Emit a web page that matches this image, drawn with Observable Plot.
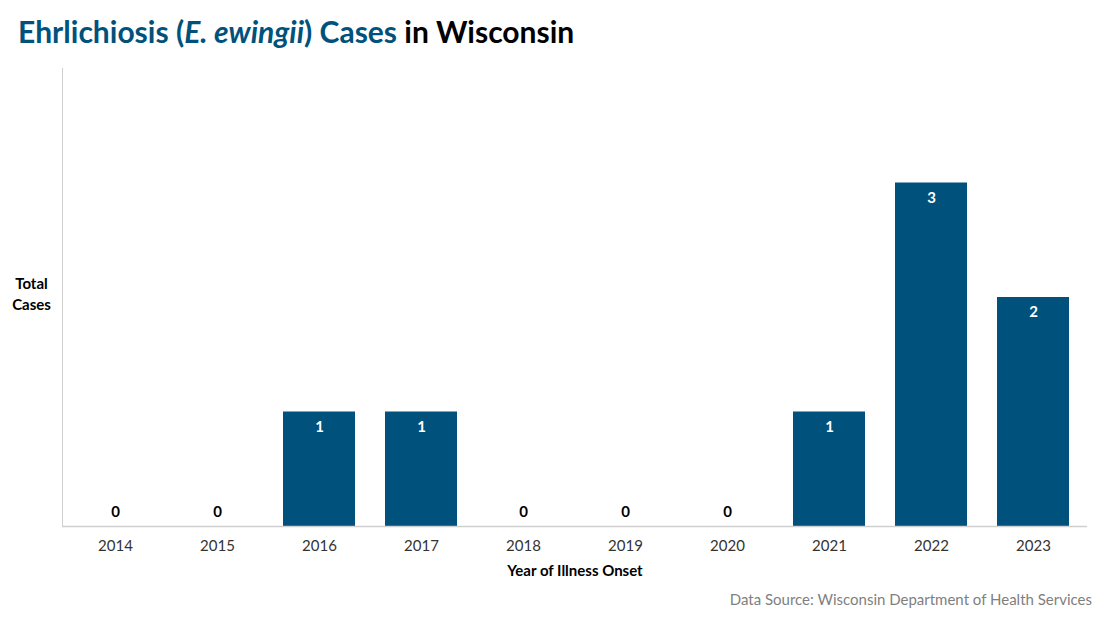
<!DOCTYPE html>
<html>
<head>
<meta charset="utf-8">
<script src="https://cdn.jsdelivr.net/npm/d3@7"></script>
<script src="https://cdn.jsdelivr.net/npm/@observablehq/plot@0.6"></script>
<style>
  body { margin: 0; background: #fff; font-family: Lato, "Open Sans", sans-serif; width: 1100px; height: 619px; overflow: hidden; }
  #title { height: 60px; box-sizing: border-box; padding: 13px 0 0 18px; font-size: 30px; font-weight: bold; color: #000; line-height: 36px; }
  #title .blue { color: #00527c; }
  #footer { text-align: right; padding-right: 8px; font-size: 15px; color: #7f7f7f; line-height: 18px; margin-top: 0px; }
</style>
</head>
<body>
<div id="title"><span class="blue">Ehrlichiosis (<i>E. ewingii</i>) Cases</span> in Wisconsin</div>
<div id="chart"></div>
<div id="footer">Data Source: Wisconsin Department of Health Services</div>
<script>
const years = ["2014", "2015", "2016", "2017", "2018", "2019", "2020", "2021", "2022", "2023"];
const cases = [0, 0, 1, 1, 0, 0, 0, 1, 3, 2];
const data = years.map((y, i) => ({year: y, cases: cases[i]}));

const chart = Plot.plot({
  width: 1100,
  height: 530,
  marginTop: 8,
  marginLeft: 62,
  marginRight: 13,
  marginBottom: 64,
  style: {fontFamily: "Lato, 'Open Sans', sans-serif", fontSize: "14px", color: "#000", background: "#fff"},
  x: {domain: years, paddingInner: 0.29, paddingOuter: 0.145, label: null},
  y: {domain: [0, 4], axis: null},
  marks: [
    Plot.barY(data, {x: "year", y: "cases", fill: "#00527c"}),
    Plot.frame({anchor: "left", stroke: "#d0d0d0", strokeWidth: 1}),
    Plot.ruleY([0], {stroke: "#d0d0d0", strokeWidth: 1.5}),
    Plot.axisX({tickSize: 0, tickPadding: 14, fontSize: 15, color: "#333", label: null}),
    Plot.text(data.filter(d => d.cases > 0), {x: "year", y: "cases", text: d => String(d.cases), dy: 15, fill: "#fff", fontWeight: "bold", fontSize: 15}),
    Plot.text(data.filter(d => d.cases === 0), {x: "year", y: "cases", text: d => String(d.cases), dy: -14, fill: "#000", fontWeight: "bold", fontSize: 15}),
    Plot.text(["Year of Illness Onset"], {frameAnchor: "bottom", dy: 49, fontWeight: "bold", fontSize: 15, fill: "#000"}),
    Plot.text(["Total\nCases"], {frameAnchor: "left", dx: -31, dy: -5, textAnchor: "middle", fontWeight: "bold", fontSize: 15, lineHeight: 1.45, fill: "#000"})
  ]
});
document.getElementById("chart").appendChild(chart);
</script>
</body>
</html>
